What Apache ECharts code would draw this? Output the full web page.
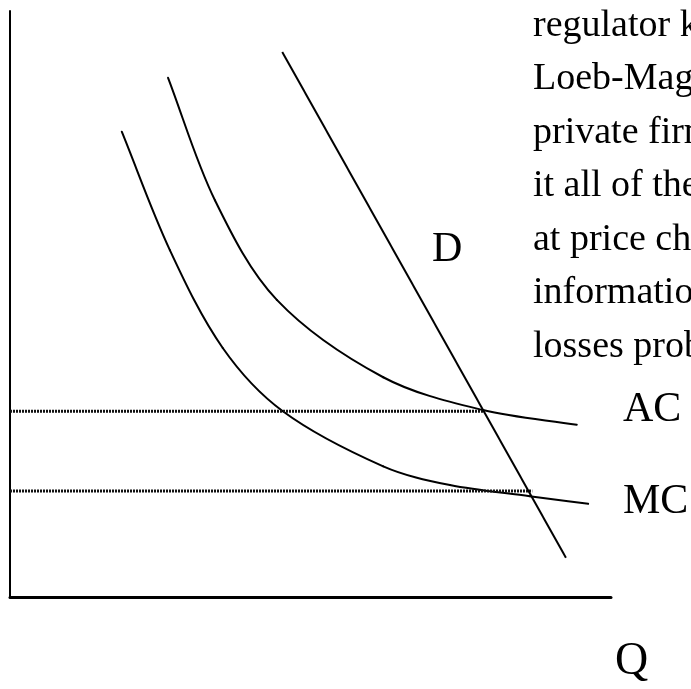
<!DOCTYPE html>
<html>
<head>
<meta charset="utf-8">
<script src="https://cdn.jsdelivr.net/npm/echarts@6/dist/echarts.min.js"></script>
<style>
html,body{margin:0;padding:0;background:#fff;}
#chart{width:691px;height:689px;}
</style>
</head>
<body>
<div id="chart"></div>
<script>
// Demand curve (Q, P)
var demandQ = [45.3, 92.5];
var demandP = [93.0, 6.7];
// Average cost curve
var acQ = [26.3, 34.1, 44.4, 62.1, 78.7, 94.3];
var acP = [88.6, 67.7, 50.7, 37.5, 31.9, 29.4];
// Marginal cost curve
var mcQ = [18.6, 26.6, 35.4, 45.4, 62.1, 73.2, 86.5, 96.2];
var mcP = [79.4, 59.2, 42.5, 31.7, 22.3, 19.1, 17.2, 15.9];
// Dotted price levels: [price, quantity where it ends]
var acLevel = [31.7, 79.0];
var mcLevel = [18.1, 86.9];
// Labels
var curveLabels = ["D", "AC", "MC", "Q"];
var textLines = ["regulator k", "Loeb-Mag", "private firm", "it all of the", "at price ch", "information", "losses prob"];

function zip(xs, ys){ return xs.map(function(x,i){ return [x, ys[i]]; }); }

// Smooth curve through the points (chord-length Catmull-Rom segments), positioned by the chart's axes
function curveSeries(xs, ys) {
  var pts = zip(xs, ys);
  return {
    type: 'custom',
    coordinateSystem: 'cartesian2d',
    data: pts,
    encode: { x: 0, y: 1 },
    silent: true,
    renderItem: function (params, api) {
      var i = params.dataIndex;
      if (i >= pts.length - 1) return null;
      var c = function (k) { k = Math.max(0, Math.min(pts.length - 1, k)); return api.coord(pts[k]); };
      var dist = function (a, b) { return Math.sqrt((a[0]-b[0])*(a[0]-b[0]) + (a[1]-b[1])*(a[1]-b[1])); };
      var p0 = c(i - 1), p1 = c(i), p2 = c(i + 1), p3 = c(i + 2);
      var d01 = dist(p0, p1), d12 = dist(p1, p2), d23 = dist(p2, p3);
      var k1 = d12 / (3 * (d01 + d12)), k2 = d12 / (3 * (d12 + d23));
      var cp1 = [p1[0] + (p2[0] - p0[0]) * k1, p1[1] + (p2[1] - p0[1]) * k1];
      var cp2 = [p2[0] - (p3[0] - p1[0]) * k2, p2[1] - (p3[1] - p1[1]) * k2];
      var d = 'M' + p1[0] + ' ' + p1[1] + ' C' + cp1[0] + ' ' + cp1[1] + ' ' + cp2[0] + ' ' + cp2[1] + ' ' + p2[0] + ' ' + p2[1];
      return {
        type: 'path',
        shape: { pathData: d },
        style: { stroke: '#000', lineWidth: 2, fill: null, lineCap: 'round' }
      };
    }
  };
}

var chart = echarts.init(document.getElementById('chart'));
var serif = "'Liberation Serif', 'Times New Roman', serif";

var graphics = textLines.map(function(t, i){
  return {
    type: 'text',
    left: 533, top: 7 + i * 53.5,
    style: { text: t, font: '38px ' + serif, fill: '#000' }
  };
});
graphics.push({type:'text', left:432, top:229, style:{text:curveLabels[0], font:'42px '+serif, fill:'#000'}});
graphics.push({type:'text', left:623, top:389, style:{text:curveLabels[1], font:'42px '+serif, fill:'#000'}});
graphics.push({type:'text', left:623, top:481, style:{text:curveLabels[2], font:'42px '+serif, fill:'#000'}});
graphics.push({type:'text', left:615, top:639, style:{text:curveLabels[3], font:'46px '+serif, fill:'#000'}});

var curveStyle = { color: '#000', width: 2 };
var dotStyle = { color: '#111', width: 3, type: [2, 1] };

var option = {
  backgroundColor: '#fff',
  animation: false,
  grid: { left: 10, right: 80, top: 11, bottom: 92 },
  xAxis: {
    type: 'value', min: 0, max: 100,
    axisLine: { show: true, onZero: false, lineStyle: { color: '#000', width: 3 } },
    axisTick: { show: false }, axisLabel: { show: false }, splitLine: { show: false }
  },
  yAxis: {
    type: 'value', min: 0, max: 100,
    axisLine: { show: true, onZero: false, lineStyle: { color: '#000', width: 2 } },
    axisTick: { show: false }, axisLabel: { show: false }, splitLine: { show: false }
  },
  series: [
    { type: 'line', data: [[0, acLevel[0]], [acLevel[1], acLevel[0]]], symbol: 'none', lineStyle: dotStyle },
    { type: 'line', data: [[0, mcLevel[0]], [mcLevel[1], mcLevel[0]]], symbol: 'none', lineStyle: dotStyle },
    { type: 'line', data: zip(demandQ, demandP), symbol: 'none', lineStyle: curveStyle },
    curveSeries(acQ, acP),
    curveSeries(mcQ, mcP)
  ],
  graphic: graphics
};
chart.setOption(option);
</script>
</body>
</html>
